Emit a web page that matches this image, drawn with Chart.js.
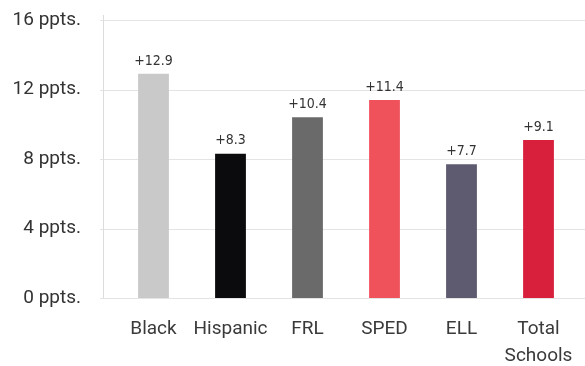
<!DOCTYPE html>
<html>
<head>
<meta charset="utf-8">
<script src="https://cdn.jsdelivr.net/npm/chart.js@4"></script>
<style>
    html, body { margin: 0; padding: 0; background: #fff; }
    #wrap { width: 585px; height: 366px; }
</style>
</head>
<body>
<div id="wrap"><canvas id="gapChart" width="585" height="366"></canvas></div>
<script>
// categories and values (percentage-point gaps)
const categories = ["Black", "Hispanic", "FRL", "SPED", "ELL", ["Total", "Schools"]];
const gaps = [12.9, 8.3, 10.4, 11.4, 7.7, 9.1];
const yTicks = [0, 4, 8, 12, 16];
const barColors = ["#c9c9c9", "#0b0b0d", "#6a6a6a", "#f0525c", "#5e5a70", "#d8203c"];

// light gridlines + left axis line, drawn from the y scale
const gridPlugin = {
    id: "gridLines",
    beforeDatasetsDraw(chart) {
        const ctx = chart.ctx;
        const y = chart.scales.y;
        const area = chart.chartArea;
        ctx.save();
        ctx.strokeStyle = "#e4e4e4";
        ctx.lineWidth = 1;
        yTicks.forEach(function (t) {
            const py = Math.round(y.getPixelForValue(t)) + 0.5;
            ctx.beginPath();
            ctx.moveTo(100, py);
            ctx.lineTo(585, py);
            ctx.stroke();
        });
        ctx.strokeStyle = "#dcdcdc";
        ctx.beginPath();
        ctx.moveTo(103.5, y.getPixelForValue(16) - 5);
        ctx.lineTo(103.5, area.bottom);
        ctx.stroke();
        ctx.restore();
    },
};

// "+12.9" labels on top of the bars
const valueLabels = {
    id: "valueLabels",
    afterDatasetsDraw(chart) {
        const ctx = chart.ctx;
        const meta = chart.getDatasetMeta(0);
        ctx.save();
        ctx.font = "14px 'DejaVu Sans Condensed', 'Liberation Sans Narrow', sans-serif";
        ctx.fillStyle = "#333";
        ctx.textAlign = "center";
        ctx.textBaseline = "bottom";
        meta.data.forEach(function (bar, i) {
            ctx.fillText("+" + gaps[i].toFixed(1), bar.x, bar.y - 6);
        });
        ctx.restore();
    },
};

new Chart(document.getElementById("gapChart").getContext("2d"), {
    type: "bar",
    data: {
        labels: categories,
        datasets: [
            {
                data: gaps,
                backgroundColor: barColors,
                borderWidth: 0,
                barPercentage: 0.4,
                categoryPercentage: 1,
            },
        ],
    },
    options: {
        responsive: false,
        animation: false,
        layout: { padding: { top: 20, right: 8, bottom: 0, left: 0 } },
        plugins: {
            legend: { display: false },
            tooltip: { enabled: false },
        },
        scales: {
            x: {
                afterFit(scale) {
                    scale.height = 68;
                    scale.paddingLeft = 0;
                    scale.paddingRight = 0;
                },
                grid: { display: false, drawTicks: false },
                border: { display: false },
                ticks: {
                    color: "#3a3a3a",
                    font: { family: "Roboto", size: 19, lineHeight: 1.4 },
                    padding: 18,
                    maxRotation: 0,
                    autoSkip: false,
                },
            },
            y: {
                min: 0,
                max: 16,
                afterFit(scale) {
                    scale.width = 115;
                    scale.paddingTop = 0;
                    scale.paddingBottom = 0;
                },
                afterBuildTicks(scale) { scale.ticks = yTicks.map((v) => ({ value: v })); },
                grid: { display: false, drawTicks: false },
                border: { display: false },
                ticks: {
                    color: "#333",
                    font: { family: "Roboto", size: 19 },
                    padding: 34,
                    callback: (v) => v + " ppts.",
                },
            },
        },
    },
    plugins: [gridPlugin, valueLabels],
});
</script>
</body>
</html>
